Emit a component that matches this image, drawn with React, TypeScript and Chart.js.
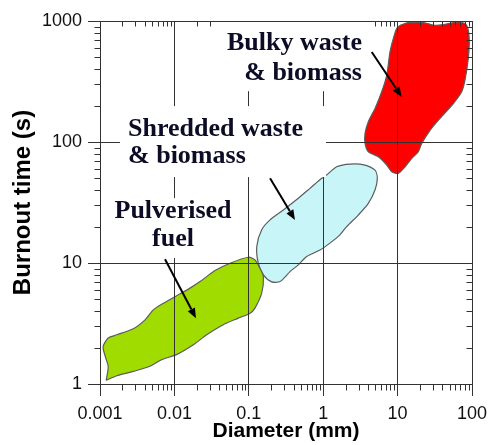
import React, { useEffect, useRef } from 'react';
import { Chart, registerables } from 'chart.js';

Chart.register(...registerables);

// Axis ticks
const xTickValues = [0.001, 0.01, 0.1, 1, 10, 100];
const xTickLabels = ['0.001', '0.01', '0.1', '1', '10', '100'];
const yTickValues = [1, 10, 100, 1000];
const yTickLabels = ['1', '10', '100', '1000'];

// Region outlines (diameter mm, burnout time s)
const pulverisedX = [0.00121, 0.00129, 0.00119, 0.0011, 0.00129, 0.00168, 0.0028, 0.00403, 0.0052, 0.00675, 0.0113, 0.0162, 0.0221, 0.0351, 0.0559, 0.0985, 0.121, 0.141, 0.157, 0.149, 0.121, 0.104, 0.0723, 0.0454, 0.0272, 0.018, 0.0107, 0.00675, 0.0047, 0.0028, 0.00168];
const pulverisedY = [1.07, 1.39, 1.65, 2.03, 2.4, 2.55, 2.86, 3.39, 4.1, 4.57, 5.46, 6.2, 7.02, 8.66, 9.96, 11.16, 10.6, 9.06, 7.72, 5.63, 4.24, 3.85, 3.5, 3.09, 2.55, 2.11, 1.75, 1.59, 1.4, 1.27, 1.17];

const shreddedX = [1.11, 1.52, 2.29, 3.65, 4.97, 5.34, 4.97, 4.04, 2.96, 2.07, 1.68, 1.23, 0.906, 0.6, 0.463, 0.358, 0.263, 0.203, 0.157, 0.134, 0.128, 0.149, 0.193, 0.291, 0.463, 0.665, 0.955];
const shreddedY = [53.3, 62.4, 65.7, 64.5, 58.6, 50.1, 40.1, 31.1, 24.9, 20, 17.1, 14.6, 12.8, 11.3, 9.65, 8.49, 7.02, 6.98, 7.98, 9.96, 13.7, 18.8, 22.7, 27.4, 34.3, 41.4, 50.1];

const bulkyX = [10.8, 13.9, 22.2, 31.8, 41.1, 62.3, 80.5, 89.2, 92, 89.2, 80.5, 72.7, 56.1, 37.2, 27.3, 21.1, 19, 15.5, 12.6, 10.2, 8.33, 7.14, 5.5, 4.04, 3.65, 3.65, 4.04, 4.97, 6.11, 7.14, 7.9, 8.75, 9.72];
const bulkyY = [921, 970, 970, 921, 934, 981, 952, 838, 671, 490, 324, 260, 208, 157, 125, 97.4, 83, 73.2, 62.4, 55.1, 56.8, 64.5, 75.5, 83, 97.4, 118, 147, 189, 260, 356, 555, 716, 866];

// Annotation labels
const labelLines = [['Bulky waste', '& biomass'], ['Shredded waste', '& biomass'], ['Pulverised', 'fuel']];
const labelX = [3.32, 0.00238, 0.00958];
const labelY = [573, 112, 23.6];
const labelAlign = ['right', 'left', 'center'];
const labelGap = [30, 27, 28.5];

// White backgrounds behind labels
const boxX0 = [0.034, 0.00186, 0.00117];
const boxX1 = [4.67, 1.09, 0.0786];
const boxYTop = [1000, 198, 34.4];
const boxYBottom = [263, 51.3, 11.0];

// Arrows
const arrowFromX = [4.49, 0.193, 0.00748];
const arrowFromY = [555, 50.1, 10.75];
const arrowToX = [11.35, 0.418, 0.0195];
const arrowToY = [236, 22.7, 3.5];

const SANS = "'Liberation Sans', Arial, sans-serif";
const SERIF = "'Liberation Serif', 'Times New Roman', serif";

const TARGET = { left: 100, top: 21, right: 472, bottom: 384 };

function closedPoints(xs: number[], ys: number[]) {
  const pts = xs.map((x, i) => ({ x, y: ys[i] }));
  pts.push({ x: xs[0], y: ys[0] });
  return pts;
}

const overlayPlugin = {
  id: 'overlay',
  afterDraw(chart: any) {
    const { ctx, chartArea: ca } = chart;
    const xs = chart.scales.x;
    const ys = chart.scales.y;
    const L = Math.round(ca.left) + 0.5;
    const R = Math.round(ca.right) + 0.5;
    const T = Math.round(ca.top) + 0.5;
    const B = Math.round(ca.bottom) + 0.5;
    ctx.save();
    // minor ticks
    ctx.strokeStyle = '#333';
    ctx.lineWidth = 1;
    ctx.beginPath();
    for (let i = 0; i < xTickValues.length - 1; i++) {
      for (let m = 2; m <= 9; m++) {
        const px = Math.round(xs.getPixelForValue(m * xTickValues[i])) + 0.5;
        ctx.moveTo(px, B);
        ctx.lineTo(px, B + 6);
        ctx.moveTo(px, T);
        ctx.lineTo(px, T + 5);
      }
    }
    for (let i = 0; i < yTickValues.length - 1; i++) {
      for (let m = 2; m <= 9; m++) {
        const py = Math.round(ys.getPixelForValue(m * yTickValues[i])) + 0.5;
        ctx.moveTo(L - 6, py);
        ctx.lineTo(L, py);
        ctx.moveTo(R - 6, py);
        ctx.lineTo(R, py);
      }
    }
    ctx.stroke();
    // label boxes
    ctx.fillStyle = '#ffffff';
    for (let i = 0; i < boxX0.length; i++) {
      const x0 = xs.getPixelForValue(boxX0[i]);
      const x1 = xs.getPixelForValue(boxX1[i]);
      const y0 = ys.getPixelForValue(boxYTop[i]);
      const y1 = ys.getPixelForValue(boxYBottom[i]);
      ctx.fillRect(x0, y0, x1 - x0, y1 - y0);
    }
    // frame
    ctx.strokeStyle = '#333';
    ctx.lineWidth = 1;
    ctx.strokeRect(L, T, R - L, B - T);
    // labels
    ctx.font = `bold 26px ${SERIF}`;
    ctx.fillStyle = '#0c0c26';
    ctx.textBaseline = 'alphabetic';
    for (let i = 0; i < labelLines.length; i++) {
      const px = xs.getPixelForValue(labelX[i]);
      const py = ys.getPixelForValue(labelY[i]);
      ctx.textAlign = labelAlign[i] as CanvasTextAlign;
      labelLines[i].forEach((t, j) => ctx.fillText(t, px, py + j * labelGap[i]));
    }
    // arrows
    ctx.strokeStyle = '#000';
    ctx.fillStyle = '#000';
    ctx.lineWidth = 2;
    for (let i = 0; i < arrowFromX.length; i++) {
      const x0 = xs.getPixelForValue(arrowFromX[i]);
      const y0 = ys.getPixelForValue(arrowFromY[i]);
      const x1 = xs.getPixelForValue(arrowToX[i]);
      const y1 = ys.getPixelForValue(arrowToY[i]);
      const ang = Math.atan2(y1 - y0, x1 - x0);
      const hl = 10, hw = 4;
      const bx = x1 - hl * Math.cos(ang);
      const by = y1 - hl * Math.sin(ang);
      ctx.beginPath();
      ctx.moveTo(x0, y0);
      ctx.lineTo(bx, by);
      ctx.stroke();
      ctx.beginPath();
      ctx.moveTo(x1, y1);
      ctx.lineTo(bx + hw * Math.sin(ang), by - hw * Math.cos(ang));
      ctx.lineTo(bx - hw * Math.sin(ang), by + hw * Math.cos(ang));
      ctx.closePath();
      ctx.fill();
    }
    ctx.restore();
  },
};

export default function App() {
  const canvasRef = useRef<HTMLCanvasElement | null>(null);

  useEffect(() => {
    document.body.style.margin = '0';
    const canvas = canvasRef.current;
    if (!canvas) return;
    const region = (xs: number[], ys: number[], fillColor: string) => ({
      data: closedPoints(xs, ys),
      showLine: true,
      fill: 'shape',
      backgroundColor: fillColor,
      borderColor: '#5c5c5c',
      borderWidth: 1.2,
      pointRadius: 0,
      pointHoverRadius: 0,
      tension: 0.25,
    });
    const chart = new Chart(canvas, {
      type: 'scatter',
      data: {
        datasets: [
          region(pulverisedX, pulverisedY, '#a0dc00'),
          region(shreddedX, shreddedY, '#c8f5f7'),
          region(bulkyX, bulkyY, '#ff0000'),
        ] as any,
      },
      options: {
        responsive: false,
        animation: false,
        events: [],
        layout: { padding: { top: 21, right: 17, left: 0, bottom: 0 } },
        plugins: { legend: { display: false }, tooltip: { enabled: false } },
        scales: {
          x: {
            type: 'logarithmic',
            min: 0.001,
            max: 100,
            afterBuildTicks: (s: any) => {
              s.ticks = xTickValues.map((v) => ({ value: v }));
            },
            afterFit: (s: any) => {
              s.height = 61;
              s.paddingLeft = 0;
              s.paddingRight = 0;
            },
            grid: { color: '#333', tickColor: '#333', tickLength: 12, lineWidth: 1, z: 1 },
            border: { display: false },
            ticks: {
              autoSkip: false,
              maxRotation: 0,
              padding: 7,
              color: '#111',
              font: { family: SANS, size: 18 },
              callback: (_v: any, i: number) => xTickLabels[i],
            },
            title: {
              display: true,
              text: 'Diameter (mm)',
              color: '#000',
              font: { family: SANS, size: 21, weight: 'bold' },
              padding: { top: 0, bottom: 1 },
            },
          },
          y: {
            type: 'logarithmic',
            min: 1,
            max: 1000,
            afterBuildTicks: (s: any) => {
              s.ticks = yTickValues.map((v) => ({ value: v }));
            },
            afterFit: (s: any) => {
              s.width = 100;
              s.paddingTop = 0;
              s.paddingBottom = 0;
            },
            grid: { color: '#333', tickColor: '#333', tickLength: 12, lineWidth: 1, z: 1 },
            border: { display: false },
            ticks: {
              autoSkip: false,
              padding: 6,
              color: '#111',
              font: { family: SANS, size: 18 },
              callback: (_v: any, i: number) => yTickLabels[i],
            },
            title: {
              display: true,
              text: 'Burnout time (s)',
              color: '#000',
              font: { family: SANS, size: 24, weight: 'bold' },
              padding: { top: 9, bottom: 0 },
            },
          },
        },
      } as any,
      plugins: [overlayPlugin],
    });
    // nudge layout padding so the plot area lands where the reference has it
    const ca = chart.chartArea;
    const pad = (chart.options as any).layout.padding;
    pad.left += TARGET.left - ca.left;
    pad.top += TARGET.top - ca.top;
    pad.right += ca.right - TARGET.right;
    pad.bottom += ca.bottom - TARGET.bottom;
    chart.update();
    return () => chart.destroy();
  }, []);

  return <canvas ref={canvasRef} width={489} height={445} style={{ display: 'block' }} />;
}
